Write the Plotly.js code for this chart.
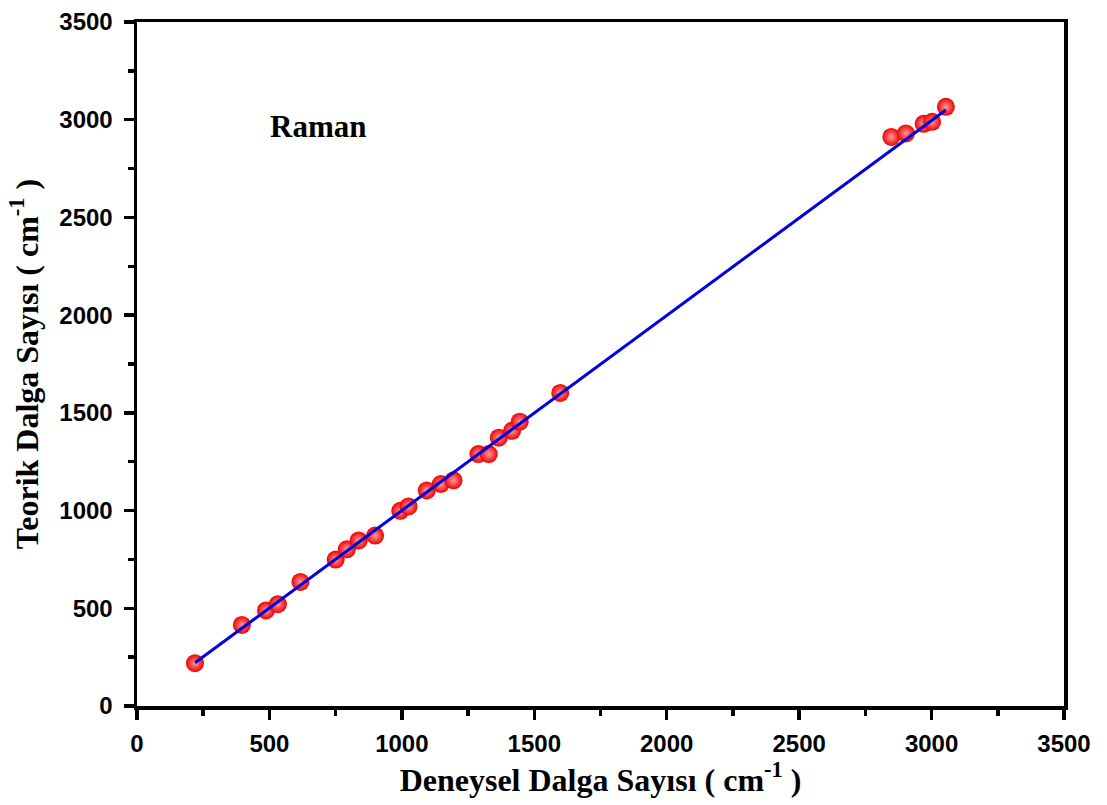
<!DOCTYPE html>
<html>
<head>
<meta charset="utf-8">
<script src="https://cdn.plot.ly/plotly-3.0.1.min.js"></script>
<style>html,body{margin:0;padding:0;background:#fff;}#chart{width:1107px;height:805px;}</style>
</head>
<body>
<div id="chart"></div>
<script>
// Experimental (deneysel) vs theoretical (teorik) wavenumbers, cm^-1
const deneysel = [219, 396, 487, 532, 617, 750, 792, 837, 899, 994, 1025, 1094, 1147, 1195, 1289, 1328, 1366, 1416, 1445, 1598, 2848, 2903, 2970, 3002, 3054];
const teorik   = [219, 415, 489, 521, 635, 749, 802, 847, 872, 999, 1021, 1103, 1136, 1155, 1289, 1289, 1373, 1408, 1455, 1602, 2912, 2930, 2979, 2989, 3066];
// linear fit line endpoints
const fitX = [219, 3054];
const fitY = [221, 3050];
const xTickVals = [0, 500, 1000, 1500, 2000, 2500, 3000, 3500];
const yTickVals = [0, 500, 1000, 1500, 2000, 2500, 3000, 3500];
const labelText = 'Raman';

const traces = [
  {
    x: deneysel, y: teorik, type: 'scatter', mode: 'markers',
    marker: {size: 18, color: '#f00000', line: {width: 0},
             gradient: {type: 'radial', color: '#ff9a9a'}},
    hoverinfo: 'x+y', showlegend: false
  },
  {
    x: fitX, y: fitY, type: 'scatter', mode: 'lines',
    line: {color: '#0000e0', width: 3}, showlegend: false
  }
];

const axisCommon = {
  range: [0, 3500], showgrid: false, zeroline: false,
  showline: true, linecolor: '#000', linewidth: 3.5, mirror: true,
  ticks: 'outside', ticklen: 10, tickwidth: 3.5, tickcolor: '#000',
  minor: {ticks: 'outside', ticklen: 6, tickwidth: 3.5, dtick: 250, tickcolor: '#000'},
  tickfont: {family: 'Liberation Sans, Arial, sans-serif', size: 24, color: '#000', weight: 'bold'}
};

const layout = {
  width: 1107, height: 805,
  margin: {l: 137, r: 43, t: 22, b: 99},
  paper_bgcolor: '#fff', plot_bgcolor: '#fff',
  xaxis: Object.assign({}, axisCommon, {
    tickvals: xTickVals, ticktext: xTickVals.map(String),
    ticklabelstandoff: 4,
    title: {text: 'Deneysel Dalga Sayısı ( cm<sup>-1</sup> )', standoff: 12,
            font: {family: 'Liberation Serif, Times New Roman, serif', size: 32, color: '#000', weight: 'bold'}}
  }),
  yaxis: Object.assign({}, axisCommon, {
    tickvals: yTickVals, ticktext: yTickVals.map(String),
    ticklabelstandoff: 6,
    title: {text: 'Teorik Dalga Sayısı ( cm<sup>-1</sup> )', standoff: 12,
            font: {family: 'Liberation Serif, Times New Roman, serif', size: 32, color: '#000', weight: 'bold'}}
  }),
  annotations: [{
    text: labelText, xref: 'x', yref: 'y', x: 685, y: 2965,
    showarrow: false, xanchor: 'center', yanchor: 'middle',
    font: {family: 'Liberation Serif, Times New Roman, serif', size: 31, color: '#000', weight: 'bold'}
  }]
};

Plotly.newPlot('chart', traces, layout, {displayModeBar: false, staticPlot: true});
</script>
</body>
</html>
